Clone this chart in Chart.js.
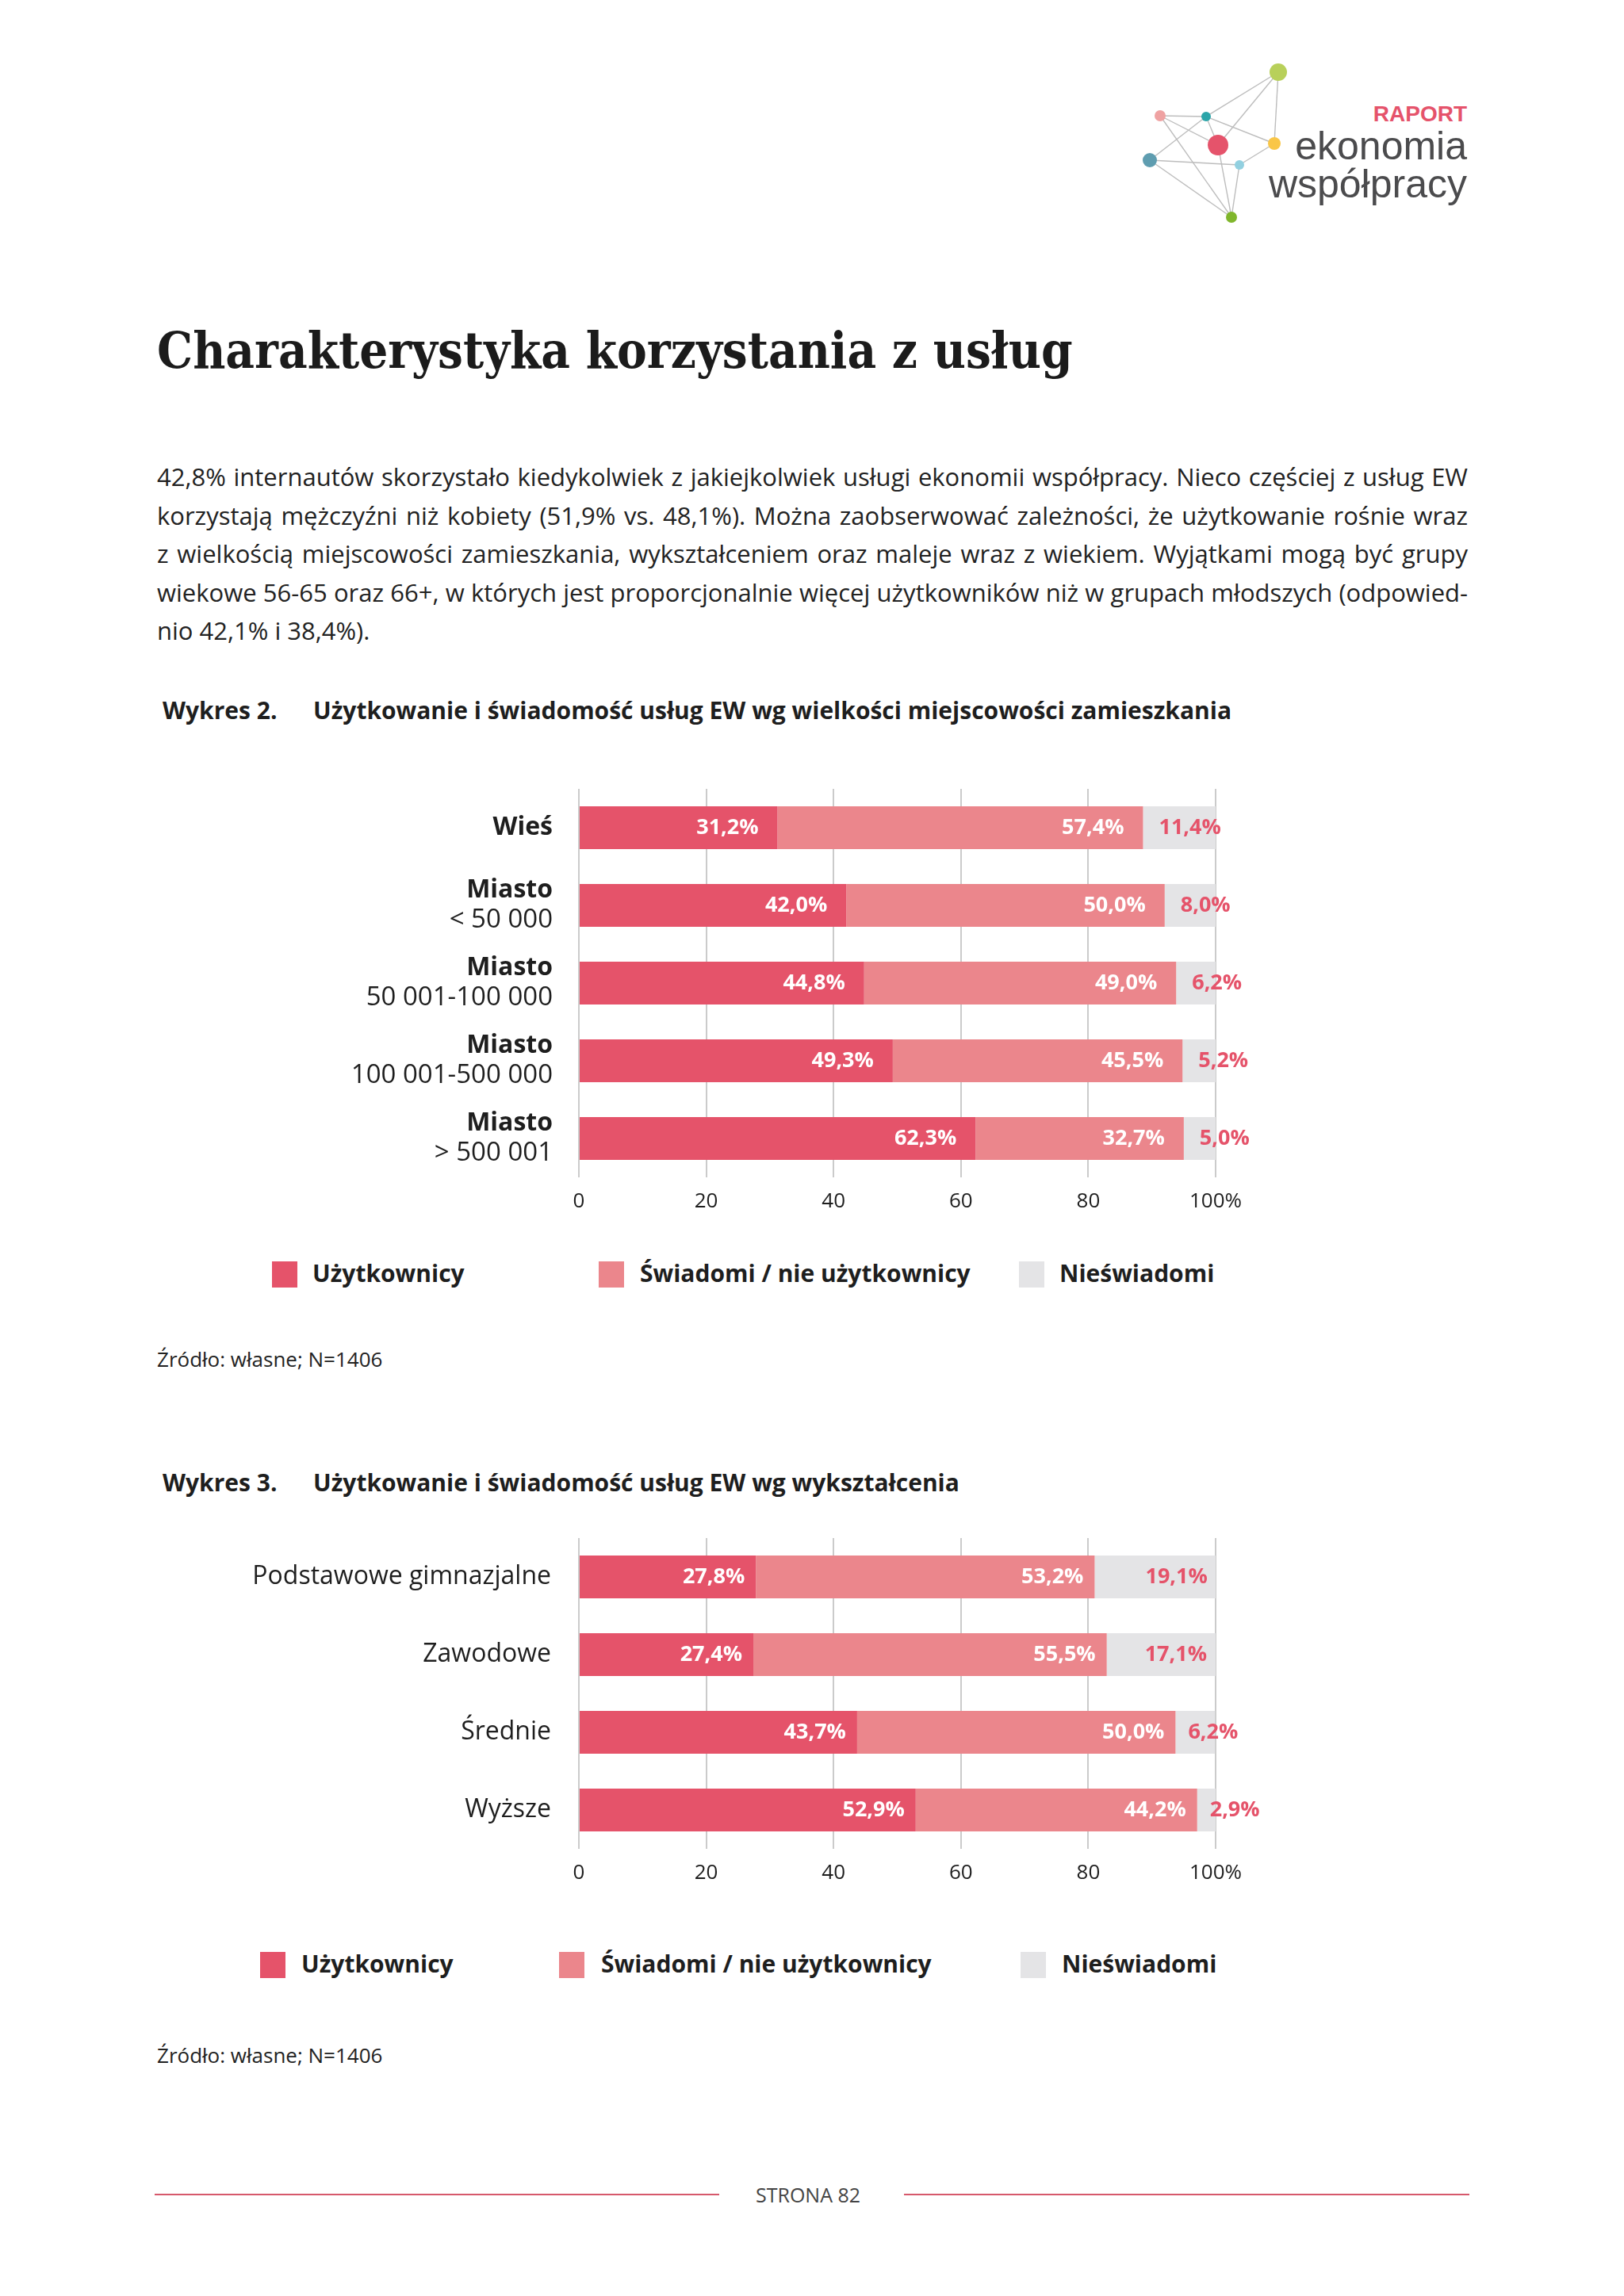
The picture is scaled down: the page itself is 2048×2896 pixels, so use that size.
<!DOCTYPE html>
<html lang="pl">
<head>
<meta charset="utf-8">
<title>Charakterystyka korzystania z usług</title>
<script src="https://cdn.jsdelivr.net/npm/chart.js@4.4.1/dist/chart.umd.min.js"></script>
<style>
  html, body { margin: 0; padding: 0; background: #fff; }
  body { width: 2048px; height: 2896px; position: relative; overflow: hidden;
         font-family: 'Open Sans', sans-serif; color: #1e1e1e; }
  .abs { position: absolute; }
  .logo-txt { position: absolute; right: 198px; font-family: 'Liberation Sans', Arial, sans-serif; white-space: nowrap; }
  h1 { position: absolute; left: 198px; top: 405px; margin: 0; font-family: 'DejaVu Serif Condensed', 'DejaVu Serif', serif;
       font-stretch: condensed; font-weight: 700; font-size: 63px; color: #1b1b1b; white-space: nowrap; }
  .para { position: absolute; left: 198px; width: 1653px; top: 577px; font-size: 31px; line-height: 48.5px; color: #222; }
  .para div { text-align: justify; text-align-last: justify; white-space: nowrap; }
  .para div.last { text-align-last: left; }
  .wykres { position: absolute; left: 205px; font-weight: 700; font-size: 30px; white-space: nowrap; line-height: 40px; }
  .wykres span.t { position: absolute; left: 190px; }
  .src { position: absolute; left: 198px; font-size: 26px; line-height: 34px; color: #222; }
  canvas { position: absolute; left: 0; }
  .leg-box { position: absolute; width: 32px; height: 33px; }
  .leg-txt { position: absolute; font-weight: 700; font-size: 30px; line-height: 40px; white-space: nowrap; }
  .foot-line { position: absolute; top: 2767px; height: 2px; background: #d6596c; }
  .foot { position: absolute; left: 953px; top: 2751px; font-size: 25px; color: #444; line-height: 34px; }
</style>
</head>
<body>

<svg class="abs" style="left:0;top:0" width="2048" height="320">
  <g stroke="#bdbdbd" stroke-width="1.4">
    <line x1="1612" y1="91" x2="1521" y2="147"/>
    <line x1="1612" y1="91" x2="1536" y2="183"/>
    <line x1="1612" y1="91" x2="1607" y2="181"/>
    <line x1="1463" y1="146" x2="1521" y2="147"/>
    <line x1="1463" y1="146" x2="1536" y2="183"/>
    <line x1="1463" y1="146" x2="1553" y2="274"/>
    <line x1="1521" y1="147" x2="1536" y2="183"/>
    <line x1="1521" y1="147" x2="1607" y2="181"/>
    <line x1="1521" y1="147" x2="1450" y2="202"/>
    <line x1="1450" y1="202" x2="1563" y2="208"/>
    <line x1="1450" y1="202" x2="1553" y2="274"/>
    <line x1="1536" y1="183" x2="1553" y2="274"/>
    <line x1="1607" y1="181" x2="1563" y2="208"/>
    <line x1="1563" y1="208" x2="1553" y2="274"/>
  </g>
  <circle cx="1612" cy="91" r="11" fill="#b8d05a"/>
  <circle cx="1463" cy="146" r="7" fill="#efa2a2"/>
  <circle cx="1521" cy="147" r="6" fill="#2ba5a9"/>
  <circle cx="1536" cy="183" r="13" fill="#e5536b"/>
  <circle cx="1607" cy="181" r="8" fill="#f9c647"/>
  <circle cx="1450" cy="202" r="9" fill="#5f9db0"/>
  <circle cx="1563" cy="208" r="6" fill="#92d0e0"/>
  <circle cx="1553" cy="274" r="7" fill="#80b62c"/>
</svg>
<div class="logo-txt" style="top:128px;font-size:28px;font-weight:700;color:#e5536b;">RAPORT</div>
<div class="logo-txt" style="top:155px;font-size:50px;color:#4b4b4d;">ekonomia</div>
<div class="logo-txt" style="top:203px;font-size:50px;color:#4b4b4d;">współpracy</div>

<h1>Charakterystyka korzystania z usług</h1>

<div class="para">
  <div>42,8% internautów skorzystało kiedykolwiek z jakiejkolwiek usługi ekonomii współpracy. Nieco częściej z usług EW</div>
  <div>korzystają mężczyźni niż kobiety (51,9% vs. 48,1%). Można zaobserwować zależności, że użytkowanie rośnie wraz</div>
  <div>z wielkością miejscowości zamieszkania, wykształceniem oraz maleje wraz z wiekiem. Wyjątkami mogą być grupy</div>
  <div>wiekowe 56-65 oraz 66+, w których jest proporcjonalnie więcej użytkowników niż w grupach młodszych (odpowied-</div>
  <div class="last">nio 42,1% i 38,4%).</div>
</div>

<div class="wykres" style="top:876px">Wykres 2.<span class="t">Użytkowanie i świadomość usług EW wg wielkości miejscowości zamieszkania</span></div>
<canvas id="wykres2" width="2048" height="570" style="top:975px"></canvas>
<div id="legenda2"></div>
<div class="src" style="top:1697px">Źródło: własne; N=1406</div>

<div class="wykres" style="top:1850px">Wykres 3.<span class="t">Użytkowanie i świadomość usług EW wg wykształcenia</span></div>
<canvas id="wykres3" width="2048" height="472" style="top:1920px"></canvas>
<div id="legenda3"></div>
<div class="src" style="top:2575px">Źródło: własne; N=1406</div>

<div class="foot-line" style="left:195px;width:712px"></div>
<div class="foot-line" style="left:1140px;width:713px"></div>
<div class="foot">STRONA 82</div>

<script>
// dane - wykres 2 (wielkość miejscowości)
var kategorie2 = [['Wieś'], ['Miasto', '< 50 000'], ['Miasto', '50 001-100 000'], ['Miasto', '100 001-500 000'], ['Miasto', '> 500 001']];
var uzytkownicy2 = [31.2, 42.0, 44.8, 49.3, 62.3];
var swiadomi2 = [57.4, 50.0, 49.0, 45.5, 32.7];
var nieswiadomi2 = [11.4, 8.0, 6.2, 5.2, 5.0];

// dane - wykres 3 (wykształcenie)
var kategorie3 = ['Podstawowe gimnazjalne', 'Zawodowe', 'Średnie', 'Wyższe'];
var uzytkownicy3 = [27.8, 27.4, 43.7, 52.9];
var swiadomi3 = [53.2, 55.5, 50.0, 44.2];
var nieswiadomi3 = [19.1, 17.1, 6.2, 2.9];

var nazwySerii = ['Użytkownicy', 'Świadomi / nie użytkownicy', 'Nieświadomi'];
var kolory = ['#e5536a', '#eb868c', '#e4e4e6'];
var etykietyOsiX = ['0', '20', '40', '60', '80', '100%'];

function fmt(v) {
  return v.toFixed(1).replace('.', ',') + '%';
}

// category labels drawn by hand so the first line can be bold
var categoryLabels = {
  id: 'categoryLabels',
  afterDraw: function (chart) {
    var o = chart.options.plugins.categoryLabels;
    var ctx = chart.ctx, yScale = chart.scales.y;
    ctx.save();
    ctx.textAlign = 'right';
    ctx.textBaseline = 'middle';
    ctx.fillStyle = '#1e1e1e';
    chart.data.labels.forEach(function (lab, i) {
      var lines = Array.isArray(lab) ? lab : [lab];
      var yc = yScale.getPixelForTick(i);
      lines.forEach(function (txt, j) {
        var off = lines.length === 1 ? 0 : (j === 0 ? -o.gap / 2 : o.gap / 2);
        var bold = o.boldFirst && j === 0;
        ctx.font = (bold ? '700 ' : '400 ') + (bold ? o.size : o.sizeReg) + 'px "Open Sans"';
        ctx.fillText(txt, o.x, yc + off);
      });
    });
    ctx.restore();
  }
};

// value labels on the bar segments
var valueLabels = {
  id: 'valueLabels',
  afterDatasetsDraw: function (chart) {
    var o = chart.options.plugins.valueLabels;
    var ctx = chart.ctx;
    ctx.save();
    ctx.font = '700 27px "Open Sans"';
    ctx.textBaseline = 'middle';
    chart.data.datasets.forEach(function (ds, di) {
      var meta = chart.getDatasetMeta(di);
      meta.data.forEach(function (el, i) {
        var txt = fmt(ds.data[i]);
        var w = ctx.measureText(txt).width;
        if (di < 2) {
          ctx.fillStyle = '#ffffff';
          ctx.textAlign = 'right';
          ctx.fillText(txt, el.x - o.inset, el.y);
        } else {
          ctx.fillStyle = kolory[0];
          if (el.x - el.base > w + 26) {
            ctx.textAlign = 'right';
            ctx.fillText(txt, el.x - 11, el.y);
          } else {
            ctx.textAlign = 'left';
            ctx.fillText(txt, el.base + o.outset, el.y);
          }
        }
      });
    });
    ctx.restore();
  }
};

function makeChart(id, labels, series, labelOpts, inset, outset) {
  return new Chart(document.getElementById(id).getContext('2d'), {
    type: 'bar',
    data: {
      labels: labels,
      datasets: series.map(function (d, k) {
        return {
          label: nazwySerii[k],
          data: d,
          backgroundColor: kolory[k],
          borderWidth: 0,
          barPercentage: 0.55,
          categoryPercentage: 1
        };
      })
    },
    options: {
      indexAxis: 'y',
      responsive: false,
      animation: false,
      events: [],
      layout: { padding: { left: 730, right: 515, top: 20, bottom: 10 } },
      scales: {
        x: {
          stacked: true,
          min: 0,
          max: 100,
          grid: { color: '#cbcbcb', lineWidth: 2, drawTicks: false },
          border: { display: false },
          ticks: {
            stepSize: 20,
            padding: 15,
            color: '#1e1e1e',
            font: { family: 'Open Sans', size: 26 },
            callback: function (v, i) { return etykietyOsiX[i]; }
          },
          afterFit: function (scale) { scale.height = 50; }
        },
        y: { stacked: true, display: false }
      },
      plugins: {
        legend: { display: false },
        tooltip: { enabled: false },
        categoryLabels: labelOpts,
        valueLabels: { inset: inset, outset: outset }
      }
    },
    plugins: [categoryLabels, valueLabels]
  });
}

function htmlLegend(chart, holderId, boxLeft, textLeft, centreY) {
  var holder = document.getElementById(holderId);
  chart.data.datasets.forEach(function (ds, k) {
    var box = document.createElement('div');
    box.className = 'leg-box';
    box.style.left = boxLeft[k] + 'px';
    box.style.top = (centreY - 16) + 'px';
    box.style.background = ds.backgroundColor;
    holder.appendChild(box);
    var t = document.createElement('div');
    t.className = 'leg-txt';
    t.style.left = textLeft[k] + 'px';
    t.style.top = (centreY - 21) + 'px';
    t.textContent = ds.label;
    holder.appendChild(t);
  });
}

var c2 = makeChart('wykres2', kategorie2, [uzytkownicy2, swiadomi2, nieswiadomi2],
  { x: 697, size: 32, sizeReg: 33, gap: 38, boldFirst: true }, 24, 20);
var c3 = makeChart('wykres3', kategorie3, [uzytkownicy3, swiadomi3, nieswiadomi3],
  { x: 695, size: 32, sizeReg: 32, gap: 38, boldFirst: false }, 14, 16);

htmlLegend(c2, 'legenda2', [343, 755, 1285], [394, 807, 1336], 1607);
htmlLegend(c3, 'legenda3', [328, 705, 1287], [380, 758, 1339], 2478);
</script>
</body>
</html>
